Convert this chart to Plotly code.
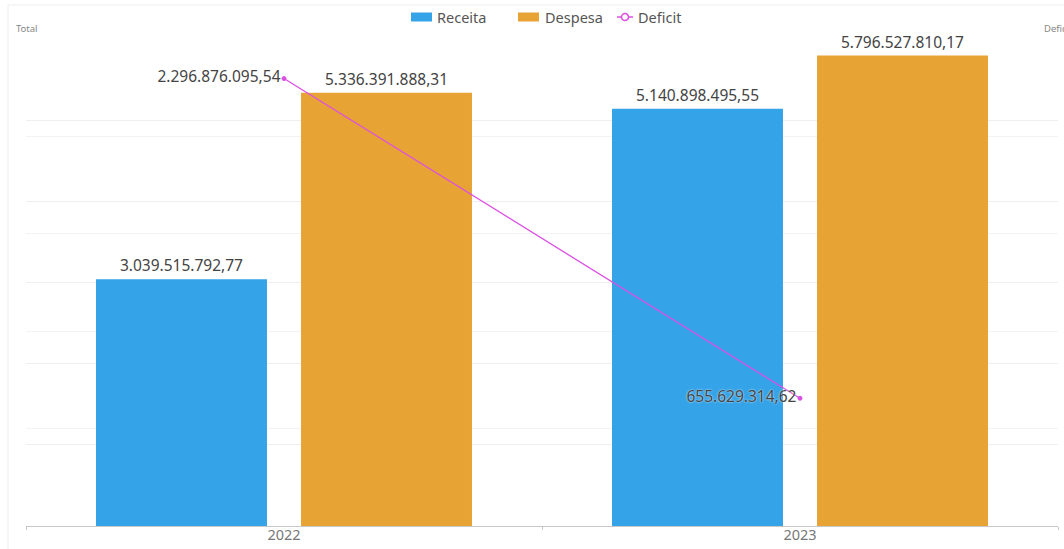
import plotly.graph_objects as go

categories = ["2022", "2023"]
receita = [3039515792.77, 5140898495.55]
despesa = [5336391888.31, 5796527810.17]
deficit = [2296876095.54, 655629314.62]
series_names = ["Receita", "Despesa", "Deficit"]


def fmt_br(v):
    s = f"{v:,.2f}"
    return s.replace(",", "X").replace(".", ",").replace("X", ".")


FONT = "Noto Sans, Open Sans, sans-serif"
W, H = 1064, 549
ML, MR, MT, MB = 26, 6, 39, 23
PW, PH = W - ML - MR, H - MT - MB
BLUE, ORANGE, MAGENTA = "#35A3E8", "#E8A335", "#DB4FE3"


def px(x):
    return (x - ML) / PW


def py(y):
    return (H - MB - y) / PH


fig = go.Figure()
fig.add_trace(go.Bar(
    name=series_names[0], x=categories, y=receita,
    marker=dict(color=BLUE, line=dict(width=0)),
    text=[fmt_br(v) for v in receita], textposition="outside",
    textfont=dict(size=15.5, color="#444444", family=FONT),
    cliponaxis=False,
))
fig.add_trace(go.Bar(
    name=series_names[1], x=categories, y=despesa,
    marker=dict(color=ORANGE, line=dict(width=0)),
    text=[fmt_br(v) for v in despesa], textposition="outside",
    textfont=dict(size=15.5, color="#444444", family=FONT),
    cliponaxis=False,
))
fig.add_trace(go.Scatter(
    name=series_names[2], x=categories, y=deficit, yaxis="y2",
    mode="lines+markers+text",
    line=dict(color=MAGENTA, width=1.3),
    marker=dict(size=4, color=MAGENTA, symbol="circle",
                line=dict(color=MAGENTA, width=1)),
    text=[fmt_br(v) for v in deficit], textposition="middle left",
    textfont=dict(size=15.5, color="#444444", family=FONT, shadow="0px 0px 2px #ffffff"),
    cliponaxis=False,
))

# custom legend (symbols + real text)
LEG_Y = 17
legend_shapes = [
    dict(type="rect", xref="paper", yref="paper", x0=px(411), x1=px(432),
         y0=py(LEG_Y + 4.5), y1=py(LEG_Y - 4.5), fillcolor=BLUE, line=dict(width=0)),
    dict(type="rect", xref="paper", yref="paper", x0=px(518), x1=px(539),
         y0=py(LEG_Y + 4.5), y1=py(LEG_Y - 4.5), fillcolor=ORANGE, line=dict(width=0)),
    dict(type="line", xref="paper", yref="paper", x0=px(617), x1=px(633),
         y0=py(LEG_Y), y1=py(LEG_Y), line=dict(color=MAGENTA, width=1.5)),
    dict(type="circle", xref="paper", yref="paper", x0=px(621.5), x1=px(628.5),
         y0=py(LEG_Y + 3.5), y1=py(LEG_Y - 3.5), fillcolor="white",
         line=dict(color=MAGENTA, width=1.5)),
]
legend_texts = [(series_names[0], 435), (series_names[1], 543), (series_names[2], 636)]
legend_annots = [
    dict(text=t, xref="paper", yref="paper", x=px(x0), y=py(LEG_Y),
         xanchor="left", yanchor="middle", showarrow=False,
         font=dict(size=14.5, color="#555555", family=FONT))
    for t, x0 in legend_texts
]

fig.update_layout(
    width=W, height=H,
    margin=dict(l=ML, r=MR, t=MT, b=MB, autoexpand=False),
    paper_bgcolor="white", plot_bgcolor="white",
    font=dict(family=FONT, color="#555555"),
    barmode="group", bargap=0.2054, bargroupgap=0.166,
    showlegend=False,
    xaxis=dict(showgrid=False, showline=True, linecolor="#c8c8c8", linewidth=1,
               ticks="outside", tickson="boundaries", ticklen=3, tickcolor="#c8c8c8",
               tickfont=dict(size=14.5, color="#777777"), ticklabelstandoff=-4,
               automargin=False),
    yaxis=dict(range=[0, 6e9], dtick=1e9, showticklabels=False, showgrid=True,
               gridcolor="#efefef", gridwidth=1, zeroline=False, showline=False,
               automargin=False),
    yaxis2=dict(range=[0, 2.5e9], dtick=0.5e9, overlaying="y", side="right",
                showticklabels=False, showgrid=True, gridcolor="#f3f3f3",
                gridwidth=1, zeroline=False, showline=False, automargin=False),
    annotations=[
        dict(text="Total", xref="paper", yref="paper", x=px(14), y=py(28),
             xanchor="left", yanchor="middle", showarrow=False,
             font=dict(size=9.5, color="#888888")),
        dict(text="Deficit", xref="paper", yref="paper", x=px(1042), y=py(28),
             xanchor="left", yanchor="middle", showarrow=False,
             font=dict(size=9.5, color="#888888")),
    ] + legend_annots,
    shapes=[
        dict(type="rect", xref="paper", yref="paper",
             x0=px(8), x1=px(1100), y0=py(5), y1=py(600),
             line=dict(color="#eeeeee", width=1), layer="below"),
    ] + legend_shapes,
)

fig.write_html("out.html")
